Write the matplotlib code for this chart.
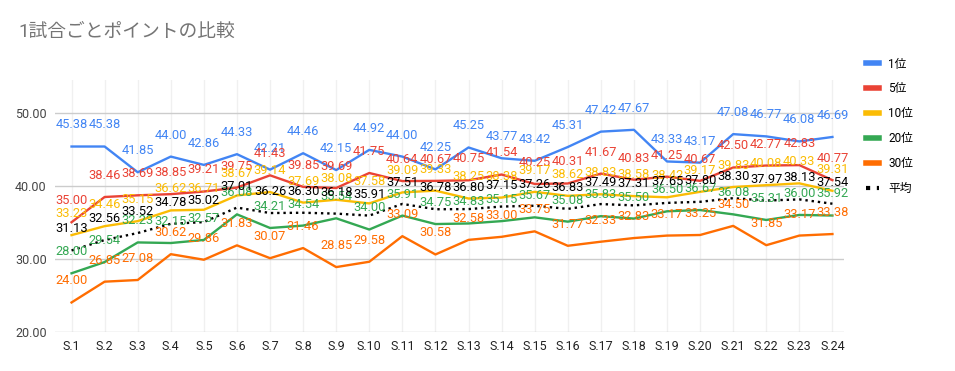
import matplotlib.pyplot as plt
from matplotlib.lines import Line2D

plt.rcParams['font.family'] = ['Roboto', 'Noto Sans CJK JP', 'DejaVu Sans']

# data
games = ['S.%d' % i for i in range(1, 25)]
rank1 = [45.38, 45.38, 41.85, 44.00, 42.86, 44.33, 42.21, 44.46, 42.15, 44.92, 44.00, 42.25,
         45.25, 43.77, 43.42, 45.31, 47.42, 47.67, 43.33, 43.17, 47.08, 46.77, 46.08, 46.69]
rank5 = [35.00, 38.46, 38.69, 38.85, 39.21, 39.75, 41.43, 39.85, 39.69, 41.75, 40.64, 40.67,
         40.75, 41.54, 40.25, 40.31, 41.67, 40.83, 41.25, 40.67, 42.50, 42.77, 42.83, 40.77]
rank10 = [33.23, 34.46, 35.15, 36.62, 36.71, 38.67, 39.14, 37.69, 38.08, 37.58, 39.09, 39.33,
          38.25, 38.38, 39.17, 38.62, 38.83, 38.58, 38.42, 39.17, 39.83, 40.08, 40.33, 39.31]
rank20 = [28.00, 29.54, 32.23, 32.15, 32.57, 36.08, 34.21, 34.54, 35.54, 34.00, 35.91, 34.75,
          34.83, 35.15, 35.67, 35.08, 35.83, 35.50, 36.50, 36.67, 36.08, 35.31, 36.00, 35.92]
rank30 = [24.00, 26.85, 27.08, 30.62, 29.86, 31.83, 30.07, 31.46, 28.85, 29.58, 33.09, 30.58,
          32.58, 33.00, 33.75, 31.77, 32.33, 32.83, 33.17, 33.25, 34.50, 31.85, 33.17, 33.38]
average = [31.13, 32.56, 33.52, 34.78, 35.02, 37.01, 36.26, 36.30, 36.18, 35.91, 37.51, 36.78,
           36.80, 37.15, 37.26, 36.83, 37.49, 37.31, 37.65, 37.80, 38.30, 37.97, 38.13, 37.54]

series = [('1位', rank1, '#4285F4', '-'),
          ('5位', rank5, '#EA4335', '-'),
          ('10位', rank10, '#FBBC04', '-'),
          ('20位', rank20, '#34A853', '-'),
          ('30位', rank30, '#FF6D01', '-'),
          ('平均', average, '#000000', ':')]

fig = plt.figure(figsize=(9.55, 3.71), dpi=100)
ax = fig.add_axes([55/955, 39/371, 789/955, 252/371])

x = list(range(len(games)))
for name, vals, col, ls in series:
    ax.plot(x, vals, color=col, linestyle=ls, linewidth=1.7, zorder=3)
for name, vals, col, ls in series:
    for xi, v in zip(x, vals):
        ax.annotate('%.2f' % v, (xi, v), xytext=(0, 15.5), textcoords='offset points',
                    ha='center', va='center', fontsize=9.3, color=col, zorder=4)

ax.set_xlim(-0.5, 23.35)
ax.set_ylim(19.95, 54.5)
ax.set_yticks([20, 30, 40, 50])
ax.set_yticklabels(['%.2f' % t for t in [20, 30, 40, 50]], fontsize=9, color='#444444')
ax.set_xticks(x)
ax.set_xticklabels(games, fontsize=9, color='#222222')
ax.tick_params(length=0, pad=6)
ax.grid(axis='y', color='#cccccc', linewidth=1)
ax.grid(axis='x', color='#f0f0f0', linewidth=1)
for s in ax.spines.values():
    s.set_visible(False)

fig.text(18/955, 1 - 32/371, '1試合ごとポイントの比較', fontsize=13.5, color='#757575',
         va='center', ha='left')

handles = [Line2D([], [], color=col, linestyle=ls, linewidth=4)
           for name, vals, col, ls in series]
handles[-1] = Line2D([], [], color='black', linestyle=(0, (1, 1.6)), linewidth=3)
fig.legend(handles, [s[0] for s in series], loc='upper left',
           bbox_to_anchor=(855/955, 1 - 47/371), frameon=False, fontsize=8.5,
           handlelength=1.1, labelspacing=1.0, handletextpad=0.8)

fig.savefig('out.png', dpi=100)
